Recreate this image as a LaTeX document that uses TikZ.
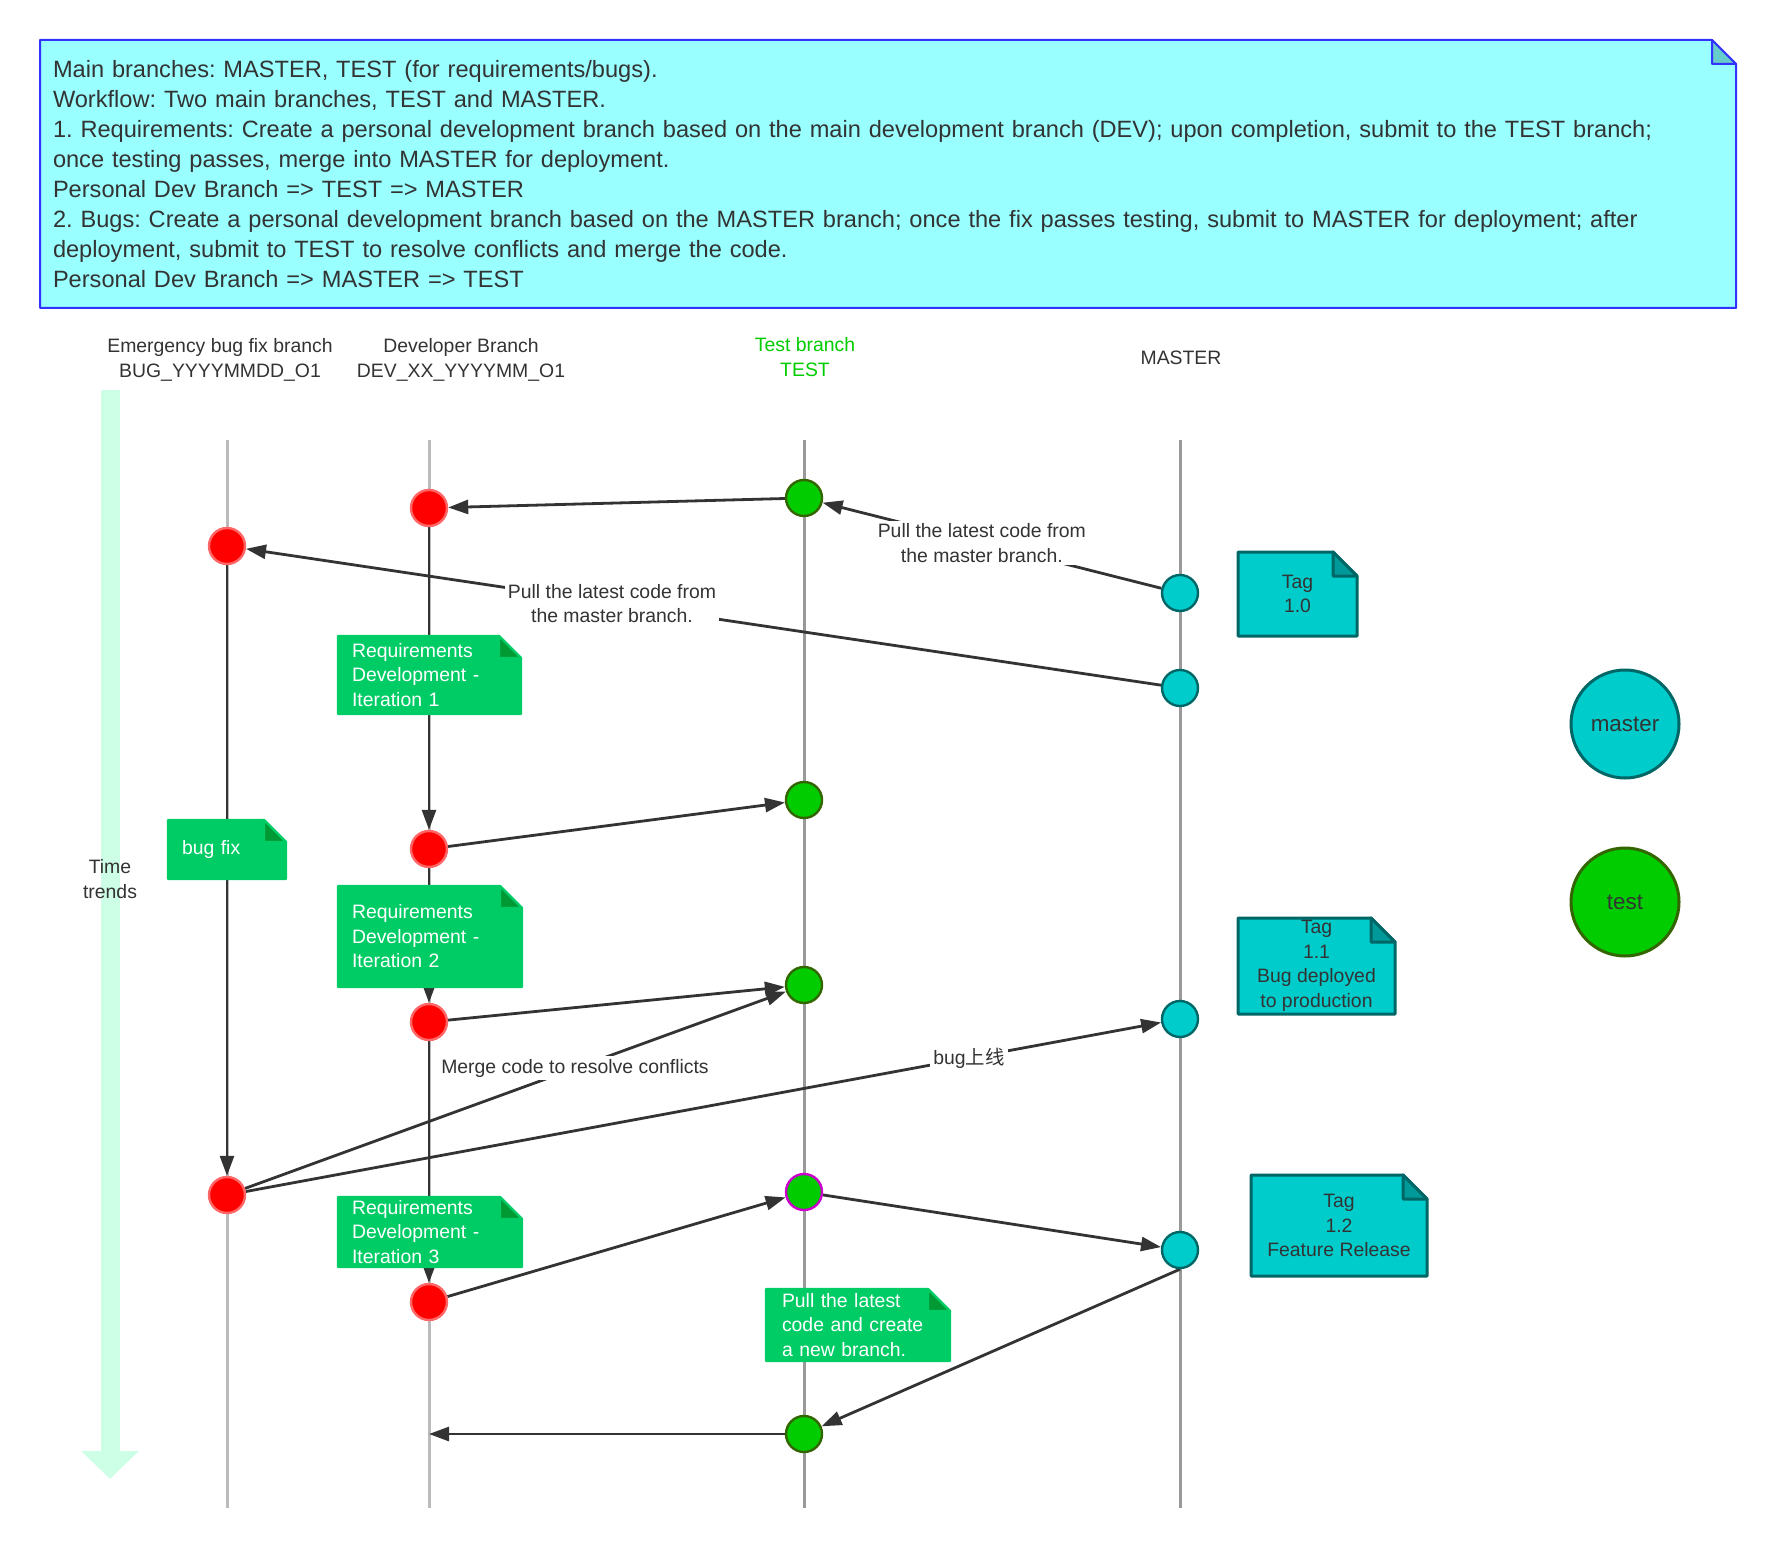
\documentclass[tikz,border=0pt]{standalone}
\usepackage{fontspec}
\setmainfont{Liberation Sans}
\newfontfamily\cjkfont{Noto Sans CJK SC}
\usetikzlibrary{arrows.meta, positioning}
\frenchspacing

\definecolor{inkgray}{HTML}{333333}
\definecolor{lanelight}{HTML}{BBBBBB}
\definecolor{lanedark}{HTML}{999999}
\definecolor{bugred}{HTML}{FF0000}
\definecolor{bugredline}{HTML}{FF6666}
\definecolor{testgreen}{HTML}{00CC00}
\definecolor{testgreenline}{HTML}{336600}
\definecolor{masterteal}{HTML}{00CCCC}
\definecolor{masterline}{HTML}{006666}
\definecolor{tagfold}{HTML}{009999}
\definecolor{notegreen}{HTML}{00CC66}
\definecolor{notefold}{HTML}{009933}
\definecolor{infofill}{HTML}{99FFFF}
\definecolor{infoline}{HTML}{3333FF}
\definecolor{infofold}{HTML}{66CCCC}
\definecolor{timemint}{HTML}{CCFFE6}
\definecolor{mergepink}{HTML}{CC00CC}

\pgfdeclarelayer{background}
\pgfsetlayers{background,main}

% note body with a folded top right corner, drawn behind the node text
\newcommand{\foldnote}[6][1.2pt]{%
  \begin{pgfonlayer}{background}
    \filldraw[fill=#3, draw=#5, line width=#1, line join=round]
      (#2.north west) -- ([xshift=-#6]#2.north east) -- ([yshift=-#6]#2.north east)
      -- (#2.south east) -- (#2.south west) -- cycle;
    \filldraw[fill=#4, draw=#5, line width=#1, line join=round]
      ([xshift=-#6]#2.north east) -- ([xshift=-#6, yshift=-#6]#2.north east)
      -- ([yshift=-#6]#2.north east) -- cycle;
  \end{pgfonlayer}}

\begin{document}
\begin{tikzpicture}[
    x=0.5pt, y=-0.5pt,
    commit/.style={circle, minimum size=18pt, inner sep=0pt, line width=1.2pt},
    redc/.style={commit, fill=bugred, draw=bugredline},
    testc/.style={commit, fill=testgreen, draw=testgreenline},
    masterc/.style={commit, fill=masterteal, draw=masterline},
    lane/.style={line width=1.5pt},
    flow/.style={-{Triangle[length=10pt, width=7pt]}, line width=1.4pt, draw=inkgray},
    lbl/.style={fill=white, inner sep=1.5pt, align=center, text=inkgray,
                font=\fontsize{9.7}{12.25}\selectfont},
    head/.style={align=center, text=inkgray, font=\fontsize{9.7}{12.5}\selectfont},
    greennote/.style={rectangle, outer sep=0pt, inner xsep=7pt, inner ysep=1pt,
                      align=left, text=white, font=\fontsize{9.7}{12.25}\selectfont},
    tagnote/.style={rectangle, outer sep=0pt, inner sep=1pt, align=center,
                    text=inkgray, font=\fontsize{9.7}{12.25}\selectfont},
    legend/.style={circle, minimum size=54pt, inner sep=0pt, line width=1.5pt,
                   text=inkgray, font=\fontsize{11.2}{13}\selectfont}
]
\useasboundingbox (0,0) rectangle (1771,1545);

% Summary box
\node[rectangle, outer sep=0pt, inner xsep=6.5pt, inner ysep=0pt, text width=835pt,
      minimum width=848pt, minimum height=134pt, align=left, text=inkgray,
      font=\fontsize{11.8}{15}\selectfont] (info) at (888,174)
  {Main branches: MASTER, TEST (for requirements/bugs).\\
   Workflow: Two main branches, TEST and MASTER.\\
   1. Requirements: Create a personal development branch based on the main development branch (DEV); upon completion, submit to the TEST branch;\\
   once testing passes, merge into MASTER for deployment.\\
   Personal Dev Branch => TEST => MASTER\\
   2. Bugs: Create a personal development branch based on the MASTER branch; once the fix passes testing, submit to MASTER for deployment; after\\
   deployment, submit to TEST to resolve conflicts and merge the code.\\
   Personal Dev Branch => MASTER => TEST};
\foldnote[1pt]{info}{infofill}{infofold}{infoline}{12pt}

% Branch headers
\node[head] (hbug) at (220,360) {Emergency bug fix branch\\BUG\_YYYYMMDD\_O1};
\node[head] (hdev) at (461,360) {Developer Branch\\DEV\_XX\_YYYYMM\_O1};
\node[head, text=testgreen] (htest) at (805,357) {Test branch\\TEST};
\node[head] (hmaster) at (1181,358) {MASTER};

% Lane ends
\coordinate (bugtop) at (227,440);   \coordinate (bugend) at (227,1508);
\coordinate (devtop) at (429,440);   \coordinate (devend) at (429,1508);
\coordinate (testtop) at (804,440);  \coordinate (testend) at (804,1508);
\coordinate (mtop) at (1180,440);    \coordinate (mend) at (1180,1508);
\coordinate (timetop) at (110,390);  \coordinate (timeend) at (110,1479);
\coordinate (devpull) at (429,1434);

% Commits
\node[testc] (test1) at (804,498) {};
\node[redc] (dev1) at (429,508) {};
\node[redc] (bug1) at (227,546) {};
\node[masterc] (m1) at (1180,593) {};
\node[masterc] (m2) at (1180,688) {};
\node[testc] (test2) at (804,800) {};
\node[redc] (dev2) at (429,849) {};
\node[testc] (test3) at (804,985) {};
\node[redc] (dev3) at (429,1022) {};
\node[masterc] (m3) at (1180,1019) {};
\node[redc] (bug2) at (227,1195) {};
\node[testc, draw=mergepink] (test4) at (804,1192) {};
\node[masterc] (m4) at (1180,1250) {};
\node[redc] (dev4) at (429,1302) {};
\node[testc] (test5) at (804,1434) {};

% Legend
\node[legend, fill=masterteal, draw=masterline] (mlegend) at (1625,724) {master};
\node[legend, fill=testgreen, draw=testgreenline] (tlegend) at (1625,902) {test};

% Time axis
\node[head] (timelbl) at (110,879) {Time\\trends};

\begin{pgfonlayer}{background}
% Lanes
\draw[lane, lanelight] (bugtop) -- (bugend);
\draw[lane, lanelight] (devtop) -- (devend);
\draw[lane, lanedark] (testtop) -- (testend);
\draw[lane, lanedark] (mtop) -- (mend);
\draw[timemint, line width=9.5pt, -{Triangle[length=14pt, width=28pt]}] (timetop) -- (timeend);

% Pulls
\draw[flow] (test1) -- (dev1);
\draw[flow] (m1) -- node[lbl, pos=0.53] {Pull the latest code from\\the master branch.} (test1);
\draw[flow] (m2) -- node[lbl, pos=0.6] {Pull the latest code from\\the master branch.} (bug1);

% Development
\draw[flow] (dev1) -- (dev2);
\draw[flow] (dev2) -- (test2);
\draw[flow] (dev2) -- (dev3);
\draw[flow] (dev3) -- (test3);
\draw[flow] (dev3) -- (dev4);
\draw[flow] (dev4) -- (test4);

% Bug fix
\draw[flow] (bug1) -- (bug2);
\draw[flow] (bug2) -- node[lbl, pos=0.61] {Merge code to resolve conflicts} (test3);
\draw[flow] (bug2) -- node[lbl, pos=0.79] {bug{\cjkfont 上线}} (m3);

% Release
\draw[flow] (test4) -- (m4);
\draw[flow] (m4.south) -- (test5);
\draw[flow] (test5) -- (devpull);
\end{pgfonlayer}

% Notes
\node[greennote, text width=77.5pt, minimum width=91.5pt, minimum height=39pt] (iter1) at (429.5,675)
  {Requirements\\Development -\\Iteration 1};
\foldnote{iter1}{notegreen}{notefold}{notegreen}{11pt}
\node[greennote, text width=45pt, minimum width=59pt, minimum height=29.5pt] (bugfix) at (227,849.5)
  {bug fix};
\foldnote{bugfix}{notegreen}{notefold}{notegreen}{11pt}
\node[greennote, text width=78pt, minimum width=92pt, minimum height=50.5pt] (iter2) at (430,936.5)
  {Requirements\\Development -\\Iteration 2};
\foldnote{iter2}{notegreen}{notefold}{notegreen}{11pt}
\node[greennote, text width=78pt, minimum width=92pt, minimum height=35pt] (iter3) at (430,1232)
  {Requirements\\Development -\\Iteration 3};
\foldnote{iter3}{notegreen}{notefold}{notegreen}{11pt}
\node[greennote, text width=76pt, inner xsep=8pt, minimum width=92pt, minimum height=36pt] (newbr) at (858,1325)
  {Pull the latest\\code and create\\a new branch.};
\foldnote{newbr}{notegreen}{notefold}{notegreen}{11pt}

% Tags
\node[tagnote, minimum width=59.5pt, minimum height=42pt] (tag10) at (1297.5,594) {Tag\\1.0};
\foldnote[1.5pt]{tag10}{masterteal}{tagfold}{masterline}{12pt}
\node[tagnote, minimum width=78.5pt, minimum height=48pt] (tag11) at (1316.5,966)
  {Tag\\1.1\\Bug deployed\\to production};
\foldnote[1.5pt]{tag11}{masterteal}{tagfold}{masterline}{12pt}
\node[tagnote, minimum width=88pt, minimum height=50.5pt] (tag12) at (1339,1225.5)
  {Tag\\1.2\\Feature Release};
\foldnote[1.5pt]{tag12}{masterteal}{tagfold}{masterline}{12pt}
\end{tikzpicture}
\end{document}
